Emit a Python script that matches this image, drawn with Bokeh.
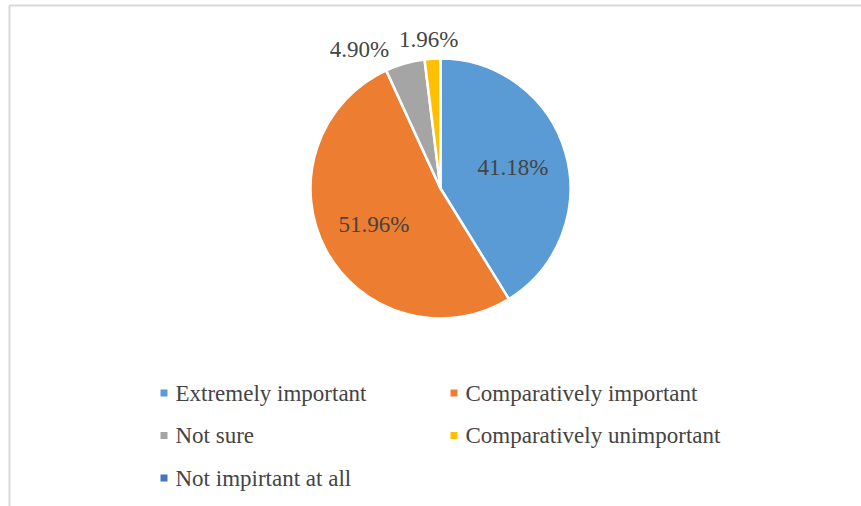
import numpy as np
from bokeh.plotting import figure
from bokeh.models import ColumnDataSource, Range1d, LabelSet
from bokeh.embed import file_html
from bokeh.resources import INLINE

# Survey answers and their shares (%)
categories = ["Extremely important", "Comparatively important", "Not sure",
              "Comparatively unimportant", "Not impirtant at all"]
shares = [41.18, 51.96, 4.90, 1.96, 0.0]
colors = ["#5B9BD5", "#ED7D31", "#A5A5A5", "#FFC000", "#4472C4"]

W, H = 861, 506
FONT = "Liberation Serif"

# Pie geometry (pixel layout, y measured from the top)
CX, CY, R = 440, 188, 130


def ys(y_px):
    return H - np.asarray(y_px, dtype=float)


p = figure(width=W, height=H, x_range=Range1d(0, W), y_range=Range1d(0, H),
           x_axis_type=None, y_axis_type=None,
           output_backend="svg", toolbar_location=None, min_border=0)
p.grid.visible = False
p.outline_line_color = None

# Chart-area frame
p.quad(left=[9], right=[W + 20], top=ys([5]).tolist(), bottom=ys([H + 20]).tolist(),
       fill_color=None, line_color="#D9D9D9", line_width=2)

# Slices, clockwise from 12 o'clock
frac = np.array(shares) / 100.0
cum = np.concatenate([[0.0], np.cumsum(frac)])
start = np.pi / 2 - 2 * np.pi * cum[:-1]
end = np.pi / 2 - 2 * np.pi * cum[1:]
keep = frac > 0
pie = ColumnDataSource(dict(start=start[keep].tolist(), end=end[keep].tolist(),
                            color=[c for c, k in zip(colors, keep) if k]))
p.wedge(x=CX, y=float(ys(CY)), radius=R, start_angle="start", end_angle="end",
        direction="clock", fill_color="color", line_color="white",
        line_width=2.5, source=pie)

# Data labels: inside for the large slices, outside for the small ones
mid = np.pi / 2 - 2 * np.pi * (cum[:-1] + frac / 2)
lab_r = np.array([0.58, 0.58, 1.1, 1.1, 1.1]) * R
lab_dx = [0, 0, -42, -3, 0]
lab_dy = [0, 0, -1, -6, 0]
lx = CX + lab_r * np.cos(mid) + np.array(lab_dx)
ly = float(ys(CY)) + lab_r * np.sin(mid) - np.array(lab_dy)
labels = ColumnDataSource(dict(
    x=lx[keep].tolist(), y=ly[keep].tolist(),
    text=[f"{s:.2f}%" for s, k in zip(shares, keep) if k]))
p.add_layout(LabelSet(x="x", y="y", text="text", source=labels,
                      text_font=FONT, text_font_size="23px",
                      text_align="center", text_baseline="middle"))

# Legend in two columns, row by row
col_x = [163.5, 453.5]
row_y = [392.5, 435, 477.5]
mx = [col_x[i % 2] for i in range(len(categories))]
my = ys([row_y[i // 2] for i in range(len(categories))]).tolist()
leg = ColumnDataSource(dict(x=mx, y=my, tx=[v + 11.5 for v in mx],
                            text=categories, color=colors))
p.scatter(x="x", y="y", source=leg, marker="square", size=7,
          fill_color="color", line_color=None)
p.add_layout(LabelSet(x="tx", y="y", text="text", source=leg,
                      text_font=FONT, text_font_size="23px",
                      text_align="left", text_baseline="middle"))

open("out.html", "w").write(file_html(p, INLINE))
